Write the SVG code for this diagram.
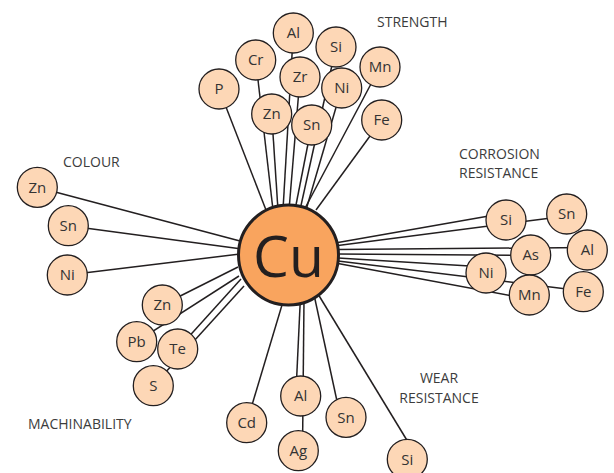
<svg xmlns="http://www.w3.org/2000/svg" width="614" height="473" viewBox="0 0 614 473">
<style>
.bg{fill:#ffffff}
.ln{stroke:#231f20;stroke-width:1.5;fill:none}
.nd{fill:#fdd7b6;stroke:#231f20;stroke-width:1.3}
.cu{fill:#f9a45e;stroke:#231f20;stroke-width:3}
.nt{font-family:"Open Sans","Noto Sans",sans-serif;font-size:15px;fill:#333333;text-anchor:middle}
.lb{font-family:"Open Sans","Noto Sans",sans-serif;font-size:14px;fill:#3c3c3c}
.ct{font-family:"Open Sans","Noto Sans",sans-serif;font-size:57px;fill:#231f20;text-anchor:middle}
</style>
<rect class="bg" x="0" y="0" width="614" height="473"/>
<g id="connectors">
<line class="ln" x1="219" y1="89" x2="266" y2="210"/>
<line class="ln" x1="255.7" y1="60" x2="273" y2="210"/>
<line class="ln" x1="271.7" y1="114" x2="278" y2="210"/>
<line class="ln" x1="293.3" y1="33" x2="283" y2="210"/>
<line class="ln" x1="300" y1="77" x2="289" y2="210"/>
<line class="ln" x1="311.7" y1="125" x2="295" y2="210"/>
<line class="ln" x1="336" y1="47" x2="300" y2="210"/>
<line class="ln" x1="341.7" y1="88" x2="306" y2="210"/>
<line class="ln" x1="380" y1="67" x2="303" y2="212"/>
<line class="ln" x1="381.7" y1="120" x2="316" y2="210"/>
<line class="ln" x1="338" y1="242.5" x2="506" y2="213"/>
<line class="ln" x1="338" y1="245.5" x2="567" y2="216"/>
<line class="ln" x1="338" y1="249.5" x2="587" y2="247.5"/>
<line class="ln" x1="338" y1="254" x2="531" y2="255.5"/>
<line class="ln" x1="338" y1="258" x2="486" y2="267"/>
<line class="ln" x1="338" y1="261" x2="583" y2="291"/>
<line class="ln" x1="338" y1="263.5" x2="529" y2="299"/>
<line class="ln" x1="37.3" y1="187.3" x2="240" y2="241"/>
<line class="ln" x1="68.3" y1="225.7" x2="240" y2="248.7"/>
<line class="ln" x1="67.3" y1="275" x2="240" y2="254"/>
<line class="ln" x1="162.3" y1="305" x2="238" y2="267"/>
<line class="ln" x1="136.7" y1="341.7" x2="239" y2="276"/>
<line class="ln" x1="177.7" y1="349" x2="241" y2="279"/>
<line class="ln" x1="153.3" y1="385.7" x2="244" y2="286"/>
<line class="ln" x1="246.7" y1="422.7" x2="282" y2="305"/>
<line class="ln" x1="295.8" y1="396" x2="300.3" y2="300"/>
<line class="ln" x1="302.5" y1="450" x2="304" y2="300"/>
<line class="ln" x1="313" y1="290" x2="340" y2="415"/>
<line class="ln" x1="318" y1="294" x2="408" y2="442"/>
</g>
<g id="labels">
<text class="lb" x="377" y="27">STRENGTH</text>
<text class="lb" x="459" y="158.5">CORROSION</text>
<text class="lb" x="459" y="177.5">RESISTANCE</text>
<text class="lb" x="63" y="166.5">COLOUR</text>
<text class="lb" x="28" y="429">MACHINABILITY</text>
<text class="lb" x="439" y="382.5" text-anchor="middle">WEAR</text>
<text class="lb" x="439" y="402.5" text-anchor="middle">RESISTANCE</text>
</g>
<g id="node-cu"><circle class="cu" cx="288.5" cy="255" r="50"/><text class="ct" x="288.5" y="277">Cu</text></g>
<g id="s-al"><circle class="nd" cx="293.3" cy="33" r="20"/><text class="nt" x="293.3" y="38.4">Al</text></g>
<g id="s-si"><circle class="nd" cx="336" cy="47" r="20"/><text class="nt" x="336" y="52.4">Si</text></g>
<g id="s-cr"><circle class="nd" cx="255.7" cy="60" r="20"/><text class="nt" x="255.7" y="65.4">Cr</text></g>
<g id="s-mn"><circle class="nd" cx="380" cy="67" r="20"/><text class="nt" x="380" y="72.4">Mn</text></g>
<g id="s-p"><circle class="nd" cx="219" cy="89" r="20"/><text class="nt" x="219" y="94.4">P</text></g>
<g id="s-zr"><circle class="nd" cx="300" cy="77" r="20"/><text class="nt" x="300" y="82.4">Zr</text></g>
<g id="s-ni"><circle class="nd" cx="341.7" cy="88" r="20"/><text class="nt" x="341.7" y="93.4">Ni</text></g>
<g id="s-zn"><circle class="nd" cx="271.7" cy="114" r="20"/><text class="nt" x="271.7" y="119.4">Zn</text></g>
<g id="s-sn"><circle class="nd" cx="311.7" cy="125" r="20"/><text class="nt" x="311.7" y="130.4">Sn</text></g>
<g id="s-fe"><circle class="nd" cx="381.7" cy="120" r="20"/><text class="nt" x="381.7" y="125.4">Fe</text></g>
<g id="c-si"><circle class="nd" cx="506" cy="220" r="20"/><text class="nt" x="506" y="225.4">Si</text></g>
<g id="c-sn"><circle class="nd" cx="566.7" cy="214" r="20"/><text class="nt" x="566.7" y="219.4">Sn</text></g>
<g id="c-as"><circle class="nd" cx="530.7" cy="255" r="20"/><text class="nt" x="530.7" y="260.4">As</text></g>
<g id="c-al"><circle class="nd" cx="587.3" cy="250" r="20"/><text class="nt" x="587.3" y="255.4">Al</text></g>
<g id="c-ni"><circle class="nd" cx="486" cy="273" r="20"/><text class="nt" x="486" y="278.4">Ni</text></g>
<g id="c-mn"><circle class="nd" cx="529.3" cy="295" r="20"/><text class="nt" x="529.3" y="300.4">Mn</text></g>
<g id="c-fe"><circle class="nd" cx="583.3" cy="291.7" r="20"/><text class="nt" x="583.3" y="297.1">Fe</text></g>
<g id="col-zn"><circle class="nd" cx="37.3" cy="187.3" r="20"/><text class="nt" x="37.3" y="192.7">Zn</text></g>
<g id="col-sn"><circle class="nd" cx="68.3" cy="225.7" r="20"/><text class="nt" x="68.3" y="231.1">Sn</text></g>
<g id="col-ni"><circle class="nd" cx="67.3" cy="275" r="20"/><text class="nt" x="67.3" y="280.4">Ni</text></g>
<g id="m-zn"><circle class="nd" cx="162.3" cy="305" r="20"/><text class="nt" x="162.3" y="310.4">Zn</text></g>
<g id="m-pb"><circle class="nd" cx="136.7" cy="341.7" r="20"/><text class="nt" x="136.7" y="347.1">Pb</text></g>
<g id="m-te"><circle class="nd" cx="177.7" cy="349" r="20"/><text class="nt" x="177.7" y="354.4">Te</text></g>
<g id="m-s"><circle class="nd" cx="153.3" cy="385.7" r="20"/><text class="nt" x="153.3" y="391.1">S</text></g>
<g id="w-cd"><circle class="nd" cx="246.7" cy="422.7" r="20"/><text class="nt" x="246.7" y="428.1">Cd</text></g>
<g id="w-al"><circle class="nd" cx="300.7" cy="396" r="20"/><text class="nt" x="300.7" y="401.4">Al</text></g>
<g id="w-sn"><circle class="nd" cx="346" cy="417.3" r="20"/><text class="nt" x="346" y="422.7">Sn</text></g>
<g id="w-ag"><circle class="nd" cx="298.3" cy="450.7" r="20"/><text class="nt" x="298.3" y="456.1">Ag</text></g>
<g id="w-si"><circle class="nd" cx="407.3" cy="459.3" r="20"/><text class="nt" x="407.3" y="464.7">Si</text></g>
</svg>
